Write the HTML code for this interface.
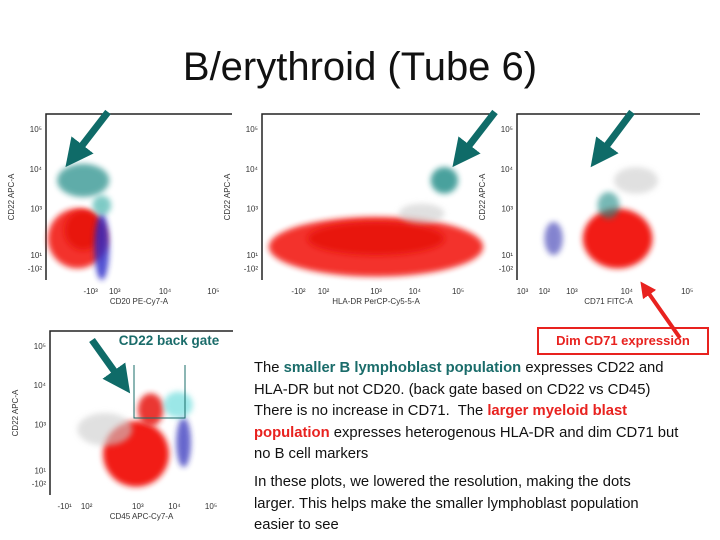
<!DOCTYPE html>
<html><head><meta charset="utf-8"><style>
body{margin:0;background:#fff;}
#root{position:relative;width:720px;height:540px;overflow:hidden;font-family:"Liberation Sans",sans-serif;}
.t{position:absolute;}
</style></head><body>
<div id="root">
<div class="t" style="left:0;width:720px;top:45px;text-align:center;font-size:40px;color:#111;">B/erythroid (Tube 6)</div>
<svg id="plots" width="720" height="540" style="position:absolute;left:0;top:0">
<defs>
<filter id="bl" x="-50%" y="-50%" width="200%" height="200%"><feGaussianBlur stdDeviation="3"/></filter>
<marker id="ah" markerWidth="4" markerHeight="4" refX="2" refY="2" orient="auto"><path d="M0,0 L4,2 L0,4z" fill="#0f6b68"/></marker>
<marker id="ahr" markerWidth="4" markerHeight="4" refX="2" refY="2" orient="auto"><path d="M0,0 L4,2 L0,4z" fill="#e8221f"/></marker>
</defs>
</svg>
<div class="t" style="left:108px;top:331px;width:122px;height:20px;font-size:13.5px;font-weight:bold;color:#1a6c6a;text-align:center;line-height:20px;">CD22 back gate</div>
<div class="t" style="left:537px;top:327px;width:168px;height:24px;border:2px solid #e8221f;font-size:13px;font-weight:bold;color:#e8221f;text-align:center;line-height:24px;">Dim CD71 expression</div>
<div class="t" style="left:254px;top:358px;white-space:nowrap;font-size:14.8px;line-height:21.5px;color:#111;">The <b style="color:#1a6c6a">smaller B lymphoblast population</b> expresses CD22 and<br>HLA-DR but not CD20. (back gate based on CD22 vs CD45)<br>There is no increase in CD71.&nbsp; The <b style="color:#e8221f">larger myeloid blast</b><br><b style="color:#e8221f">population</b> expresses heterogenous HLA-DR and dim CD71 but<br>no B cell markers</div>
<div class="t" style="left:254px;top:472px;white-space:nowrap;font-size:14.8px;line-height:21.5px;color:#111;">In these plots, we lowered the resolution, making the dots<br>larger. This helps make the smaller lymphoblast population<br>easier to see</div>
</div>
<script>
const panelNames=['cd20-plot','hladr-plot','cd71-plot','cd45-plot'];
const frames=[[46,114,232,280],[262,114,490,280],[517,114,700,280],[50,331,233,495]];
const xTitles=['CD20 PE-Cy7-A','HLA-DR PerCP-Cy5-5-A','CD71 FITC-A','CD45 APC-Cy7-A'];
const yTitle='CD22 APC-A';
const yTicks=['10⁵','10⁴','10³','10¹','-10²'];
const yTickFrac=[0.09,0.33,0.57,0.85,0.93];
const xTickLabels=[['-10³','10³','10⁴','10⁵'],['-10²','10²','10³','10⁴','10⁵'],['10³','10²','10³','10⁴','10⁵'],['-10¹','10²','10³','10⁴','10⁵']];
const xTickFrac=[[0.24,0.37,0.64,0.9],[0.16,0.27,0.5,0.67,0.86],[0.03,0.15,0.3,0.6,0.93],[0.08,0.2,0.48,0.68,0.88]];
const clPanel=[0,0,0,0,0, 1,1,1,1, 2,2,2,2, 3,3,3,3,3];
const clX=[0.17,0.2,0.3,0.2,0.3, 0.5,0.5,0.8,0.7, 0.55,0.65,0.5,0.2, 0.47,0.55,0.73,0.7,0.3];
const clY=[0.75,0.7,0.8,0.4,0.55, 0.8,0.75,0.4,0.6, 0.75,0.4,0.55,0.75, 0.75,0.48,0.68,0.45,0.6];
const clRx=[0.16,0.1,0.04,0.14,0.05, 0.47,0.3,0.06,0.1, 0.19,0.12,0.06,0.05, 0.18,0.07,0.04,0.08,0.15];
const clRy=[0.18,0.12,0.2,0.1,0.06, 0.18,0.1,0.08,0.06, 0.18,0.08,0.08,0.1, 0.2,0.1,0.15,0.08,0.1];
const clCol=['#f21a12','#e8120a','#2626c8','#1b8a85','#2aa8a0', '#f21a12','#e8120a','#1b8a85','#ccc', '#f21a12','#ccc','#1b8a85','#3030b0', '#f21a12','#e8221f','#2828b8','#5ad8d8','#ccc'];
const clOp=[0.9,1,0.8,0.7,0.6, 0.9,1,0.8,0.6, 1,0.6,0.6,0.6, 1,0.9,0.7,0.6,0.6];
const svg=document.getElementById('plots');
const NS='http://www.w3.org/2000/svg';
function mk(tag,at,txt){const e=document.createElementNS(NS,tag);for(const k in at)e.setAttribute(k,at[k]);if(txt)e.textContent=txt;svg.appendChild(e);return e;}
const sx=(p,f)=>frames[p][0]+f*(frames[p][2]-frames[p][0]);
const sy=(p,f)=>frames[p][1]+f*(frames[p][3]-frames[p][1]);
frames.forEach((fr,p)=>{
  const r=mk('path',{d:`M${fr[0]},${fr[3]} L${fr[0]},${fr[1]} L${fr[2]},${fr[1]}`,fill:'none',stroke:'#222','stroke-width':1.5});
  
  
  yTicks.forEach((t,i)=>{const e=mk('text',{x:fr[0]-4,y:sy(p,yTickFrac[i])+3,'font-size':8,'text-anchor':'end',fill:'#333'},t);
    
    });
  xTickLabels[p].forEach((t,i)=>{const e=mk('text',{x:sx(p,xTickFrac[p][i]),y:fr[3]+14,'font-size':8,'text-anchor':'middle',fill:'#333'},t);
    
    });
  const xt=mk('text',{x:(fr[0]+fr[2])/2,y:fr[3]+24,'font-size':8,'text-anchor':'middle',fill:'#333'},xTitles[p]);
  
  
  const yx=fr[0]-32,yy=(fr[1]+fr[3])/2;
  const yt=mk('text',{x:yx,y:yy,'font-size':8,'text-anchor':'middle',fill:'#333',transform:`rotate(-90 ${yx} ${yy})`},yTitle);
  
  
});
clPanel.forEach((p,i)=>{
  const w=frames[p][2]-frames[p][0],h=frames[p][3]-frames[p][1];
  const e=mk('ellipse',{cx:sx(p,clX[i]),cy:sy(p,clY[i]),rx:clRx[i]*w,ry:clRy[i]*h,fill:clCol[i],opacity:clOp[i],filter:'url(#bl)'});
  
  
});
const gate=mk('path',{d:`M134,365 L134,418 L185,418 L185,365`,fill:'none',stroke:'#1a6c6a','stroke-width':1});


const arrows=[[108,112,74,156,'#0f6b68','ah'],[495,112,461,156,'#0f6b68','ah'],[632,112,599,156,'#0f6b68','ah'],[92,340,122,382,'#0f6b68','ah'],[680,338,645,288,'#e8221f','ahr']];
arrows.forEach(a=>{const e=mk('line',{x1:a[0],y1:a[1],x2:a[2],y2:a[3],stroke:a[4],'stroke-width':a[4]=='#e8221f'?4:7,'marker-end':`url(#${a[5]})`});
  
  });
</script>
</body></html>
